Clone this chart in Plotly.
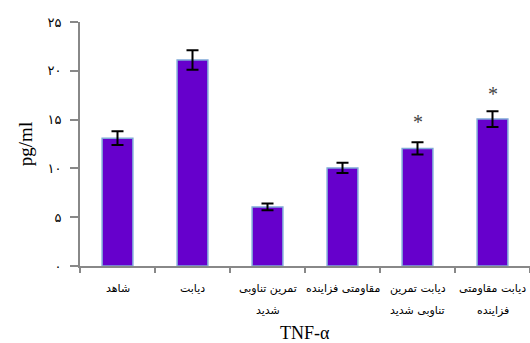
import plotly.graph_objects as go

categories = ["شاهد", "دیابت", "تمرین تناوبی شدید", "مقاومتی فزاینده",
              "دیابت تمرین تناوبی شدید", "دیابت مقاومتی فزاینده"]
label_line1 = ["شاهد", "دیابت", "تمرین تناوبی", "مقاومتی فزاینده", "دیابت تمرین", "دیابت مقاومتی"]
label_line2 = ["", "", "شدید", "", "تناوبی شدید", "فزاینده"]
values = [13.1, 21.1, 6.05, 10.05, 12.05, 15.05]
errors = [0.7, 1.0, 0.35, 0.52, 0.63, 0.8]
star_labels = ["", "", "", "", "*", "*"]
star_y = [None, None, None, None, 14.8, 17.6]
y_tickvals = [0, 5, 10, 15, 20, 25]
y_ticktext = ["۰", "۵", "۱۰", "۱۵", "۲۰", "۲۵"]

fig = go.Figure()
fig.add_trace(go.Bar(
    x=categories, y=values,
    width=0.41,
    marker=dict(color="#6600CC", line=dict(color="#7FA8D8", width=1.5)),
    error_y=dict(type="data", array=errors, color="black", thickness=2, width=6),
))

for c, s, yv in zip(categories, star_labels, star_y):
    if s:
        fig.add_annotation(x=c, y=yv, text=s, showarrow=False,
                           font=dict(size=20, color="#444", family="Liberation Serif"))

plot_h = 343 - 22 - 77
for c, l1, l2 in zip(categories, label_line1, label_line2):
    fig.add_annotation(x=c, y=-(288 - 266) / plot_h, xref="x", yref="paper",
                       text=l1, showarrow=False, yanchor="middle",
                       font=dict(size=11, family="DejaVu Sans", color="black"))
    if l2:
        fig.add_annotation(x=c, y=-(310 - 266) / plot_h, xref="x", yref="paper",
                           text=l2, showarrow=False, yanchor="middle",
                           font=dict(size=11, family="DejaVu Sans", color="black"))

fig.add_annotation(x=0.5, y=-(333 - 266) / plot_h, xref="paper", yref="paper",
                   text="TNF-α", showarrow=False, yanchor="middle",
                   font=dict(size=18, family="Liberation Serif", color="black"))

fig.update_layout(
    width=530, height=343,
    margin=dict(l=80, r=0, t=22, b=77),
    plot_bgcolor="white", paper_bgcolor="white",
    showlegend=False,
    font=dict(family="Liberation Serif", color="black"),
    xaxis=dict(
        showline=True, linecolor="#888", linewidth=2,
        ticks="outside", tickson="boundaries", ticklen=5, tickcolor="#888", tickwidth=1.5,
        showticklabels=False,
        range=[-0.5, 5.5],
    ),
    yaxis=dict(
        range=[0, 25], tickvals=y_tickvals, ticktext=y_ticktext,
        showline=True, linecolor="#888", linewidth=2,
        ticks="outside", ticklen=8, tickcolor="#888", tickwidth=1.5,
        showgrid=False, zeroline=False,
        tickfont=dict(size=13, family="DejaVu Sans"),
        ticklabelstandoff=6,
        title=dict(text="pg/ml", font=dict(size=19, family="Liberation Serif"), standoff=10),
    ),
)

fig.write_html("out.html")
